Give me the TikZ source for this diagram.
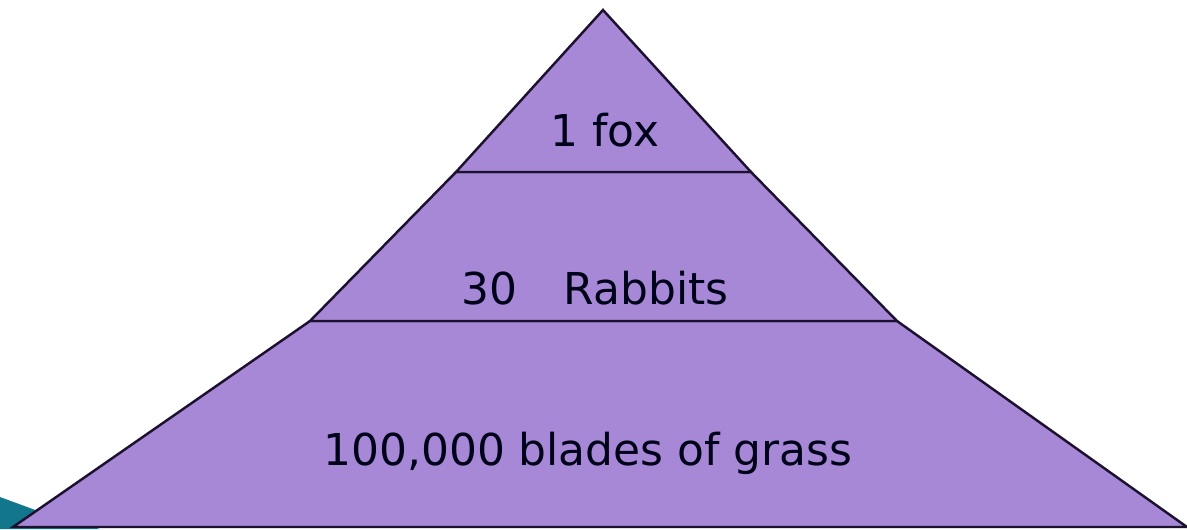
\documentclass[tikz,border=0pt]{standalone}
\usepackage{fontspec}
\setsansfont{DejaVu Sans}
\definecolor{layerfill}{RGB}{167,136,214}
\definecolor{layerline}{RGB}{28,18,48}
\definecolor{slideteal}{RGB}{18,118,140}
\begin{document}
\begin{tikzpicture}[x=0.02cm, y=-0.02cm, line width=1.4pt,
    every node/.style={font=\sffamily\fontsize{25}{30}\selectfont, text=black!90!blue},
    layer/.style={draw=layerline, fill=layerfill, line join=miter}]
  \useasboundingbox (0,0) rectangle (1187,529);
  % corner of the slide decoration
  \fill[slideteal] (0,497) -- (38,511) -- (100,529) -- (0,529) -- cycle;
  % pyramid corners
  \coordinate (apex) at (603,10);
  \coordinate (tl) at (456,172);
  \coordinate (tr) at (751,172);
  \coordinate (ml) at (310,321);
  \coordinate (mr) at (897,321);
  \coordinate (bl) at (13,527);
  \coordinate (br) at (1187,527);
  \draw[layer] (bl) -- (ml) -- (mr) -- (br) -- cycle;
  \draw[layer] (ml) -- (tl) -- (tr) -- (mr) -- cycle;
  \draw[layer] (tl) -- (apex) -- (tr) -- cycle;
  % labels
  \node (fox) at (605,130) {1 fox};
  \node (rabbits) at (595,288) {30\hspace{1.05em}Rabbits};
  \node (grass) at (588,453) {100,000 blades of grass};
\end{tikzpicture}
\end{document}
